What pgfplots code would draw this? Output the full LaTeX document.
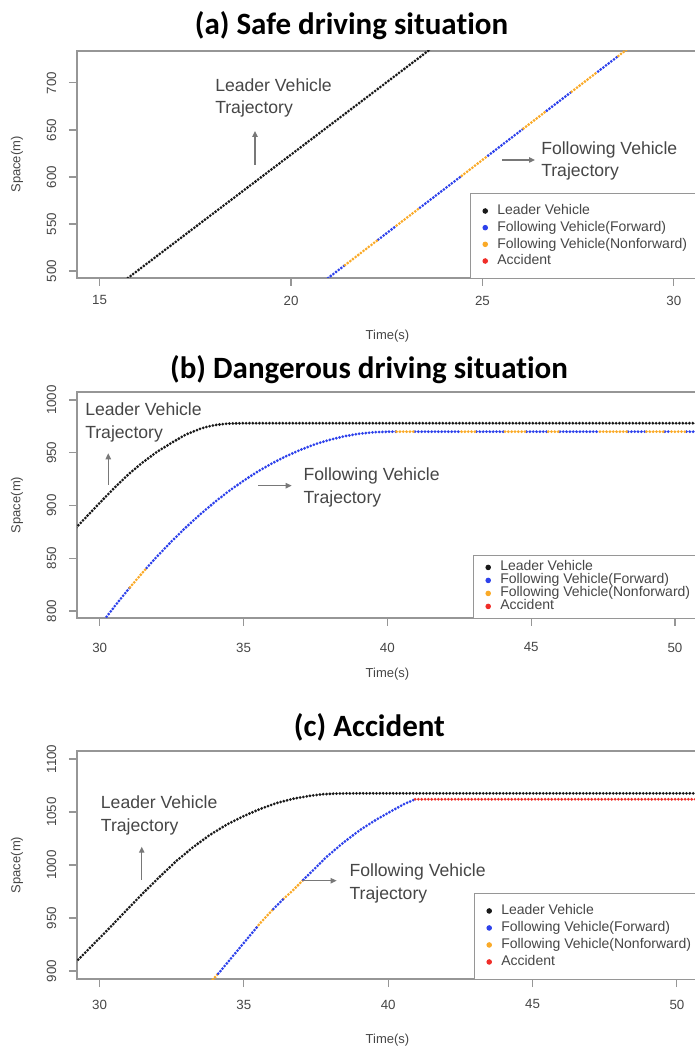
\documentclass[border=0pt]{standalone}
\usepackage{fontspec}
\setmainfont{Liberation Sans}
\newfontfamily\carlito[Ligatures=NoCommon]{Carlito}
\usepackage{pgfplots}
\pgfplotsset{compat=1.18}
\usetikzlibrary{arrows.meta}

\definecolor{rblue}{RGB}{45,65,235}
\definecolor{rorange}{RGB}{250,170,40}
\definecolor{rred}{RGB}{240,45,40}
\definecolor{rblack}{RGB}{25,25,25}
\definecolor{textgray}{RGB}{70,70,70}
\definecolor{axisgray}{RGB}{150,150,150}
\definecolor{arrowgray}{RGB}{120,120,120}

\tikzset{dots/.style={line width=2.3pt, line cap=round, dash pattern=on 0pt off 2.5pt}}
\pgfplotsset{
  legend image code/.code={\fill[#1] (0pt,0pt) circle (1.7pt);},
  rbase/.style={
    scale only axis, anchor=south west, width=465.75pt,
    axis line style={draw=axisgray, line width=0.8pt},
    every tick/.style={draw=axisgray, line width=0.8pt},
    tick align=outside, major tick length=6pt,
    xtick pos=bottom, ytick pos=left,
    /pgf/number format/assume math mode=true,
    /pgf/number format/1000 sep={},
    ticklabel style={font=\fontsize{10}{11}\selectfont, text=textgray},
    yticklabel style={rotate=90, anchor=south},
    yticklabel shift=6pt,
    label style={font=\fontsize{9.75}{11}\selectfont, text=textgray},
    xlabel={Time(s)}, ylabel={Space(m)},
    xlabel style={anchor=center},
    ylabel style={at={(axis description cs:-0.0966,0.5)}, anchor=center},
    unbounded coords=jump,
    legend cell align=left,
    legend style={draw=axisgray, line width=0.7pt, anchor=north west,
      font=\fontsize{10.5}{12}\selectfont, text=textgray,
      inner xsep=9pt, column sep=7pt, row sep=0pt},
  },
}

\begin{document}
\begin{tikzpicture}
%================ (a)
\begin{axis}[rbase, at={(57.75pt,578.25pt)}, height=170.25pt,
  xmin=14.41, xmax=30.63, ymin=492.6, ymax=734,
  xtick={15,20,25,30}, ytick={500,550,600,650,700},
  xticklabel shift=3.75pt,
  xlabel style={at={(axis description cs:0.5,-0.2555)}},
  legend style={at={(0.6329,0.3744)}, inner ysep=6.9pt,
    nodes={inner sep=0pt, text height=9pt, text depth=3.5pt}},
]
\addplot[dots, rblack, forget plot] coordinates {(15.6,488.3) (24.0,747.0)};
\addplot[dots, rblue, forget plot] coordinates {
 (20.9,490.4) (21.41,506.3) (21.5,nan)
 (22.28,533.4) (22.76,548.4) (23,nan)
 (23.37,567.4) (24.46,601.3) (24.6,nan)
 (25.15,622.8) (26.07,651.5) (26.2,nan)
 (26.68,670.5) (27.33,690.7) (27.5,nan)
 (28.02,712.2) (28.55,728.7)};
\addplot[dots, rorange, forget plot] coordinates {
 (21.41,506.3) (22.28,533.4) (22.5,nan)
 (22.76,548.4) (23.37,567.4) (23.5,nan)
 (24.46,601.3) (25.15,622.8) (25.5,nan)
 (26.07,651.5) (26.68,670.5) (26.9,nan)
 (27.33,690.7) (28.02,712.2) (28.2,nan)
 (28.55,728.7) (29.0,742.7)};
\addlegendimage{rblack}\addlegendentry{Leader Vehicle}
\addlegendimage{rblue}\addlegendentry{Following Vehicle(Forward)}
\addlegendimage{rorange}\addlegendentry{Following Vehicle(Nonforward)}
\addlegendimage{rred}\addlegendentry{Accident}
\end{axis}
%================ (b)
\begin{axis}[rbase, at={(57.75pt,323.25pt)}, height=169.5pt,
  xmin=29.21, xmax=50.80, ymin=793.4, ymax=1007.6,
  xtick={30,35,40,45,50}, ytick={800,850,900,950,1000},
  xticklabel shift=9pt,
  xlabel style={at={(axis description cs:0.5,-0.2478)}},
  legend style={at={(0.6377,0.2788)}, inner ysep=4.1pt,
    nodes={inner sep=0pt, text height=6.9pt, text depth=2.85pt}},
]
\addplot[dots, rblack, forget plot] coordinates {
 (29.1,876.7) (29.5,888.2) (30.0,902.5) (30.5,916.5) (31.0,929.6) (31.5,941.0)
 (32.0,951.0) (32.5,959.5) (33.0,967.3) (33.5,972.8) (33.75,974.8) (34.0,976.2)
 (34.25,977.1) (34.5,977.7) (35.0,978.0) (50.9,978.0)};
\addplot[dots, rblue, forget plot] coordinates {
 (30.1,789.6) (30.5,803.8) (31.05,822.4) (31.2,nan)
 (31.63,840.8) (32.0,851.9) (32.5,866.1) (33.0,879.4) (33.5,891.8) (34.0,903.3)
 (34.5,913.9) (35.0,923.5) (35.5,932.3) (36.0,940.1) (36.5,947.0) (37.0,953.0)
 (37.5,958.2) (38.0,962.3) (38.5,965.6) (39.0,968.0) (39.5,969.4) (40.05,970)
 (40.32,970) (40.5,nan)
 (40.96,970) (42.58,970) (42.7,nan)
 (43.10,970) (44.09,970) (44.2,nan)
 (44.84,970) (45.59,970) (45.7,nan)
 (46.0,970) (47.39,970) (47.5,nan)
 (48.37,970) (49.01,970) (49.1,nan)
 (49.65,970) (49.88,970) (50.0,nan)
 (50.40,970) (50.9,970)};
\addplot[dots, rorange, forget plot] coordinates {
 (31.05,822.4) (31.3,830.4) (31.63,840.8) (31.8,nan)
 (40.32,970) (40.96,970) (41.2,nan)
 (42.58,970) (43.10,970) (43.3,nan)
 (44.09,970) (44.84,970) (45.0,nan)
 (45.59,970) (46.0,970) (46.2,nan)
 (47.39,970) (48.37,970) (48.5,nan)
 (49.01,970) (49.65,970) (49.7,nan)
 (49.88,970) (50.40,970)};
\addlegendimage{rblack}\addlegendentry{Leader Vehicle}
\addlegendimage{rblue}\addlegendentry{Following Vehicle(Forward)}
\addlegendimage{rorange}\addlegendentry{Following Vehicle(Nonforward)}
\addlegendimage{rred}\addlegendentry{Accident}
\end{axis}
%================ (c)
\begin{axis}[rbase, at={(57.75pt,52.5pt)}, height=171pt,
  xmin=29.22, xmax=50.73, ymin=892.45, ymax=1107.55,
  xtick={30,35,40,45,50}, ytick={900,950,1000,1050,1100},
  xticklabel shift=6pt,
  xlabel style={at={(axis description cs:0.5,-0.2675)}},
  legend style={at={(0.6393,0.3772)}, inner ysep=6.75pt,
    nodes={inner sep=0pt, text height=9.1pt, text depth=3.65pt}},
]
\addplot[dots, rblack, forget plot] coordinates {
 (29.1,906.2) (29.22,909.5) (29.8,925.5) (30.36,941) (30.94,957.5) (31.52,973.8)
 (32.1,989.3) (32.67,1004) (33.25,1017) (33.83,1028.5) (34.4,1038) (34.98,1046)
 (35.56,1052.8) (36.14,1058.5) (36.71,1062.5) (37.29,1065.3) (37.75,1066.8)
 (38.21,1067.4) (38.8,1067.6) (50.9,1067.6)};
\addplot[dots, rorange, forget plot] coordinates {
 (33.85,889.5) (34.11,897.5) (34.2,nan)
 (35.44,941) (35.56,945) (36.02,958.5) (36.1,nan)
 (36.37,968) (36.71,976.4) (37.06,986)};
\addplot[dots, rblue, forget plot] coordinates {
 (34.11,897.5) (34.17,899.3) (34.8,920) (35.44,941) (35.5,nan)
 (36.02,958.5) (36.37,968) (36.5,nan)
 (37.06,986) (37.87,1007.8) (38.45,1021.2) (39.02,1033) (39.6,1043)
 (40.18,1051.9) (40.55,1057.5) (40.93,1062)};
\addplot[dots, rred, forget plot] coordinates {(40.93,1062) (50.9,1062)};
\addlegendimage{rblack}\addlegendentry{Leader Vehicle}
\addlegendimage{rblue}\addlegendentry{Following Vehicle(Forward)}
\addlegendimage{rorange}\addlegendentry{Following Vehicle(Nonforward)}
\addlegendimage{rred}\addlegendentry{Accident}
\end{axis}
%================ titles
\begin{scope}[every node/.style={font=\carlito\bfseries\fontsize{23.25}{26}\selectfont, anchor=base, inner sep=0pt}]
\node at (263.6pt,760.5pt) {(a) Safe driving situation};
\node at (276.75pt,503pt) {(b) Dangerous driving situation};
\node at (277.1pt,234.2pt) {(c) Accident};
\end{scope}
%================ annotations
\begin{scope}[every node/.style={font=\fontsize{13.2}{15}\selectfont, text=textgray, anchor=base west, inner sep=0pt},
  arr/.style={draw=arrowgray, line width=1pt, -{Triangle[length=4.5pt,width=4pt]}}]
\node at (161.25pt,717.75pt) {Leader Vehicle};
\node at (161.25pt,701.25pt) {Trajectory};
\draw[arr] (191.25pt,663pt) -- (191.25pt,688.5pt);
\node at (405.75pt,670.5pt) {Following Vehicle};
\node at (405.75pt,654pt) {Trajectory};
\draw[arr] (376.5pt,666.75pt) -- (401.25pt,666.75pt);
\node at (63.75pt,475pt) {Leader Vehicle};
\node at (63.75pt,457.5pt) {Trajectory};
\draw[arr] (81.2pt,423pt) -- (81.2pt,446.8pt);
\node at (227.5pt,426.2pt) {Following Vehicle};
\node at (227.5pt,409.3pt) {Trajectory};
\draw[arr] (193.7pt,422.5pt) -- (218.8pt,422.5pt);
\node at (75.5pt,180.5pt) {Leader Vehicle};
\node at (75.5pt,163pt) {Trajectory};
\draw[arr] (106.3pt,126.75pt) -- (106.3pt,151.7pt);
\node at (262pt,129.2pt) {Following Vehicle};
\node at (262pt,112.3pt) {Trajectory};
\draw[arr] (227.5pt,126.2pt) -- (252.5pt,126.2pt);
\end{scope}
\pgfresetboundingbox
\useasboundingbox (0pt,0pt) rectangle (520.5pt,786.75pt);
\end{tikzpicture}
\end{document}
